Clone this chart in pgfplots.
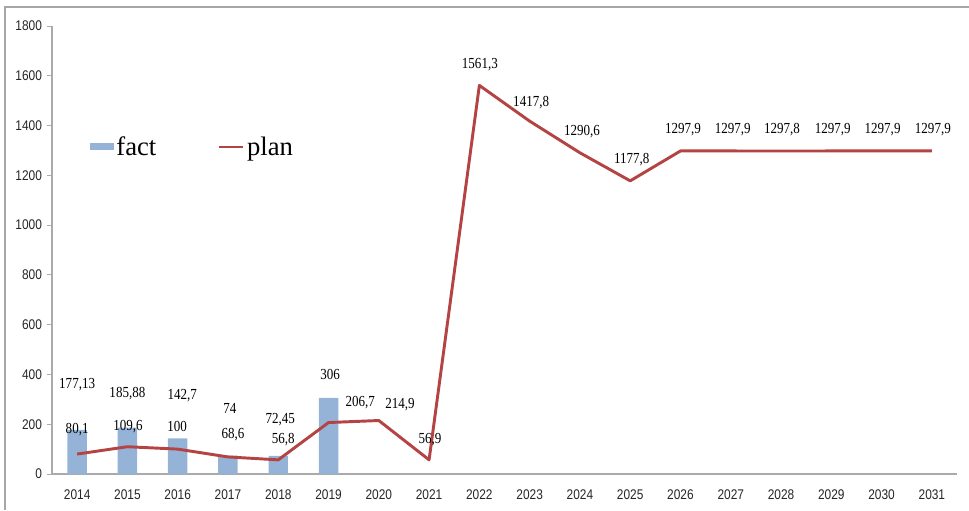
\documentclass[border=0pt]{standalone}
\usepackage{pgfplots}
\pgfplotsset{compat=1.18}
\usepackage{fontspec}
\setmainfont{Liberation Serif}
\newfontfamily\tickfont[FakeStretch=0.85]{Liberation Sans}
\newfontfamily\labfont[FakeStretch=0.85]{Liberation Serif}
\definecolor{factc}{RGB}{149,179,215}
\definecolor{planc}{RGB}{180,68,68}
\definecolor{axc}{RGB}{170,170,170}
\begin{document}
\begin{tikzpicture}
\useasboundingbox (0,0) rectangle (726.75pt,382.5pt);
\draw[gray!70, line width=1.3pt] (3.75pt,0pt) -- (3.75pt,377.25pt) -- (726.75pt,377.25pt);
\begin{axis}[
  at={(39pt,27pt)}, anchor=south west,
  scale only axis, width=678.75pt, height=336pt,
  xmin=-0.5, xmax=17.5, ymin=0, ymax=1800,
  axis x line*=bottom, axis y line*=left,
  every outer x axis line/.append style={-},
  every outer y axis line/.append style={-},
  axis line style={draw=axc, line width=0.8pt},
  xtick={0,...,17},
  xticklabels={2014,2015,2016,2017,2018,2019,2020,2021,2022,2023,2024,2025,2026,2027,2028,2029,2030,2031},
  x tick label style={font=\tickfont\fontsize{10.5}{11}\selectfont, text=black!85, yshift=-4pt},
  major x tick style={draw=none},
  extra x ticks={-0.5,0.5,...,17.5},
  extra x tick labels={},
  extra x tick style={major tick length=4pt, tick style={draw=axc, line width=0.6pt}},
  ytick={0,200,...,1800},
  yticklabel style={/pgf/number format/1000 sep={}, /pgf/number format/assume math mode=true,
    font=\tickfont\fontsize{10.5}{11}\selectfont, text=black!85},
  tick align=outside,
  major tick length=4pt,
  ytick style={draw=axc, line width=0.6pt},
  legend columns=2,
  legend style={at={(0.037,0.73)}, anchor=west, draw=none, fill=none,
    font=\fontsize{20}{22}\selectfont,
    /tikz/every even column/.append style={column sep=44pt}},
  legend cell align=left,
]
\addplot[ybar, bar width=14.6pt, fill=factc, draw=none,
  legend image code/.code={\fill[factc] (0pt,-2.6pt) rectangle (18pt,2.6pt);}]
  coordinates {(0,177.13) (1,185.88) (2,142.7) (3,74) (4,72.45) (5,306)};
\addlegendentry{fact}
\addplot[planc, line width=2.2pt, mark=none, line join=round,
  legend image code/.code={\draw[planc, line width=2pt] (0pt,0pt) -- (18pt,0pt);}]
  coordinates {(0,80.1) (1,109.6) (2,100) (3,68.6) (4,56.8) (5,206.7) (6,214.9) (7,56.9)
   (8,1561.3) (9,1417.8) (10,1290.6) (11,1177.8) (12,1297.9) (13,1297.9) (14,1297.8)
   (15,1297.9) (16,1297.9) (17,1297.9)};
\addlegendentry{plan}
\begin{scope}[every node/.style={font=\labfont\fontsize{11.5}{12}\selectfont, text=black}]
\node at (axis cs:0,357.6) {177,13};
\node at (axis cs:1,325) {185,88};
\node at (axis cs:2.09,313) {142,7};
\node at (axis cs:3.04,265) {74};
\node at (axis cs:4.04,217) {72,45};
\node at (axis cs:5.03,398) {306};
\node at (axis cs:0,177) {80,1};
\node at (axis cs:1.01,189) {109,6};
\node at (axis cs:1.99,189) {100};
\node at (axis cs:3.1,157) {68,6};
\node at (axis cs:4.1,137) {56,8};
\node at (axis cs:5.63,285) {206,7};
\node at (axis cs:6.42,277) {214,9};
\node at (axis cs:7.02,137) {56,9};
\node at (axis cs:8.01,1643) {1561,3};
\node at (axis cs:9.03,1494) {1417,8};
\node at (axis cs:10.04,1374) {1290,6};
\node at (axis cs:11.03,1262) {1177,8};
\node at (axis cs:12.05,1382) {1297,9};
\node at (axis cs:13.04,1382) {1297,9};
\node at (axis cs:14.02,1382) {1297,8};
\node at (axis cs:15.03,1382) {1297,9};
\node at (axis cs:16.02,1382) {1297,9};
\node at (axis cs:17.02,1382) {1297,9};
\end{scope}
\end{axis}
\end{tikzpicture}
\end{document}
